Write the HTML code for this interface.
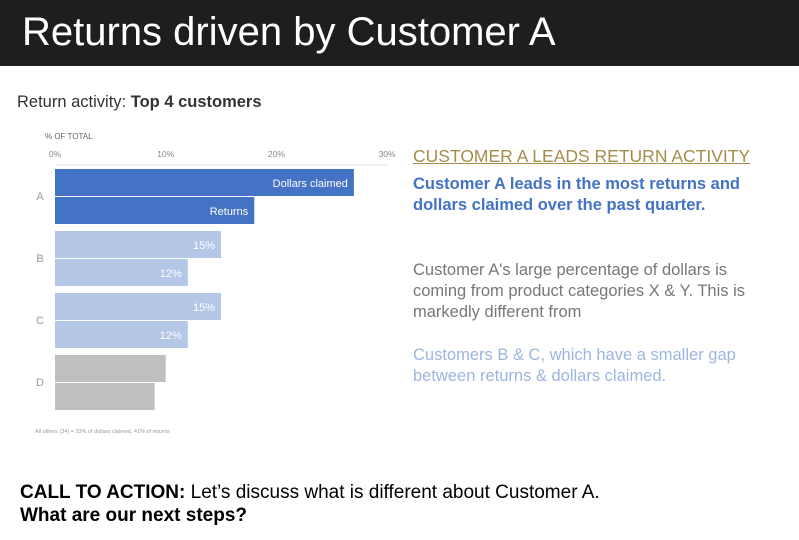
<!DOCTYPE html>
<html><head><meta charset="utf-8"><style>
body{margin:0;width:799px;height:540px;background:#fff;font-family:"Liberation Sans",sans-serif;position:relative;overflow:hidden}
.hdr{position:absolute;left:0;top:0;width:799px;height:66px;background:#1e1e1e;color:#fff;font-size:40px;line-height:64px;padding-left:22px;box-sizing:border-box}
.sub{position:absolute;left:17px;top:93px;font-size:16.5px;color:#333}
.rt{position:absolute;left:413px;width:345px;font-size:16.5px;line-height:21px}
.cta{position:absolute;left:20px;top:481px;font-size:19px;line-height:23px;color:#000}
</style></head><body>
<div class="hdr">Returns driven by Customer A</div>
<div class="sub">Return activity: <b>Top 4 customers</b></div>
<svg id="chart" style="position:absolute;left:0;top:0" width="400" height="440"></svg>
<div class="rt" style="top:146px;width:380px;font-size:17.5px;color:#a38d4b;text-decoration:underline">CUSTOMER A LEADS RETURN ACTIVITY</div>
<div class="rt" style="top:174px;color:#4472c4;font-weight:bold">Customer A leads in the most returns and dollars claimed over the past quarter.</div>
<div class="rt" style="top:260px;color:#777">Customer A's large percentage of dollars is coming from product categories X &amp; Y. This is markedly different from</div>
<div class="rt" style="top:345px;color:#9db5e0">Customers B &amp; C, which have a smaller gap between returns &amp; dollars claimed.</div>
<div class="cta"><b>CALL TO ACTION:</b> Let’s discuss what is different about Customer A.<br><b>What are our next steps?</b></div>
<script>
const categories=["A","B","C","D"];
const dollars=[27,15,15,10];
const returns=[18,12,12,9];
const dollarLabels=["Dollars claimed","15%","15%",""];
const returnLabels=["Returns","12%","12%",""];
const ticks=[0,10,20,30];
const colors=["#4472c4","#b4c7e7","#b4c7e7","#bfbfbf"];
const ns="http://www.w3.org/2000/svg";
const svg=document.getElementById("chart");
const x=v=>55+v*11.07;
const y0=169,groupH=62,barH=27;
function mk(t,a,txt){const e=document.createElementNS(ns,t);for(const k in a)e.setAttribute(k,a[k]);if(txt!==undefined)e.textContent=txt;svg.appendChild(e);return e;}
let e=mk("text",{x:45,y:139,"font-size":8,fill:"#666"},"% OF TOTAL");


e=mk("line",{x1:x(0),x2:x(30),y1:165,y2:165,stroke:"#e6e6e6"});


ticks.forEach(t=>{
 const el=mk("text",{x:x(t),y:157,"font-size":8.5,fill:"#888","text-anchor":"middle"},t+"%");
 
 
});
categories.forEach((c,i)=>{
 const gy=y0+i*groupH;
 let el=mk("text",{x:40,y:gy+barH+4,"font-size":11,fill:"#999","text-anchor":"middle"},c);
 
 
 el=mk("rect",{x:x(0),y:gy,width:x(dollars[i])-x(0),height:barH,fill:colors[i]});
 
 
 el=mk("rect",{x:x(0),y:gy+barH+1,width:x(returns[i])-x(0),height:barH,fill:colors[i]});
 
 
 if(dollarLabels[i]){el=mk("text",{x:x(dollars[i])-6,y:gy+18,"font-size":11,fill:"#fff","text-anchor":"end"},dollarLabels[i]);
 
 }
 if(returnLabels[i]){el=mk("text",{x:x(returns[i])-6,y:gy+barH+19,"font-size":11,fill:"#fff","text-anchor":"end"},returnLabels[i]);
 
 }
});
e=mk("text",{x:35,y:433,"font-size":5.5,fill:"#999"},"All others (34) = 33% of dollars claimed, 41% of returns");


</script>
</body></html>
